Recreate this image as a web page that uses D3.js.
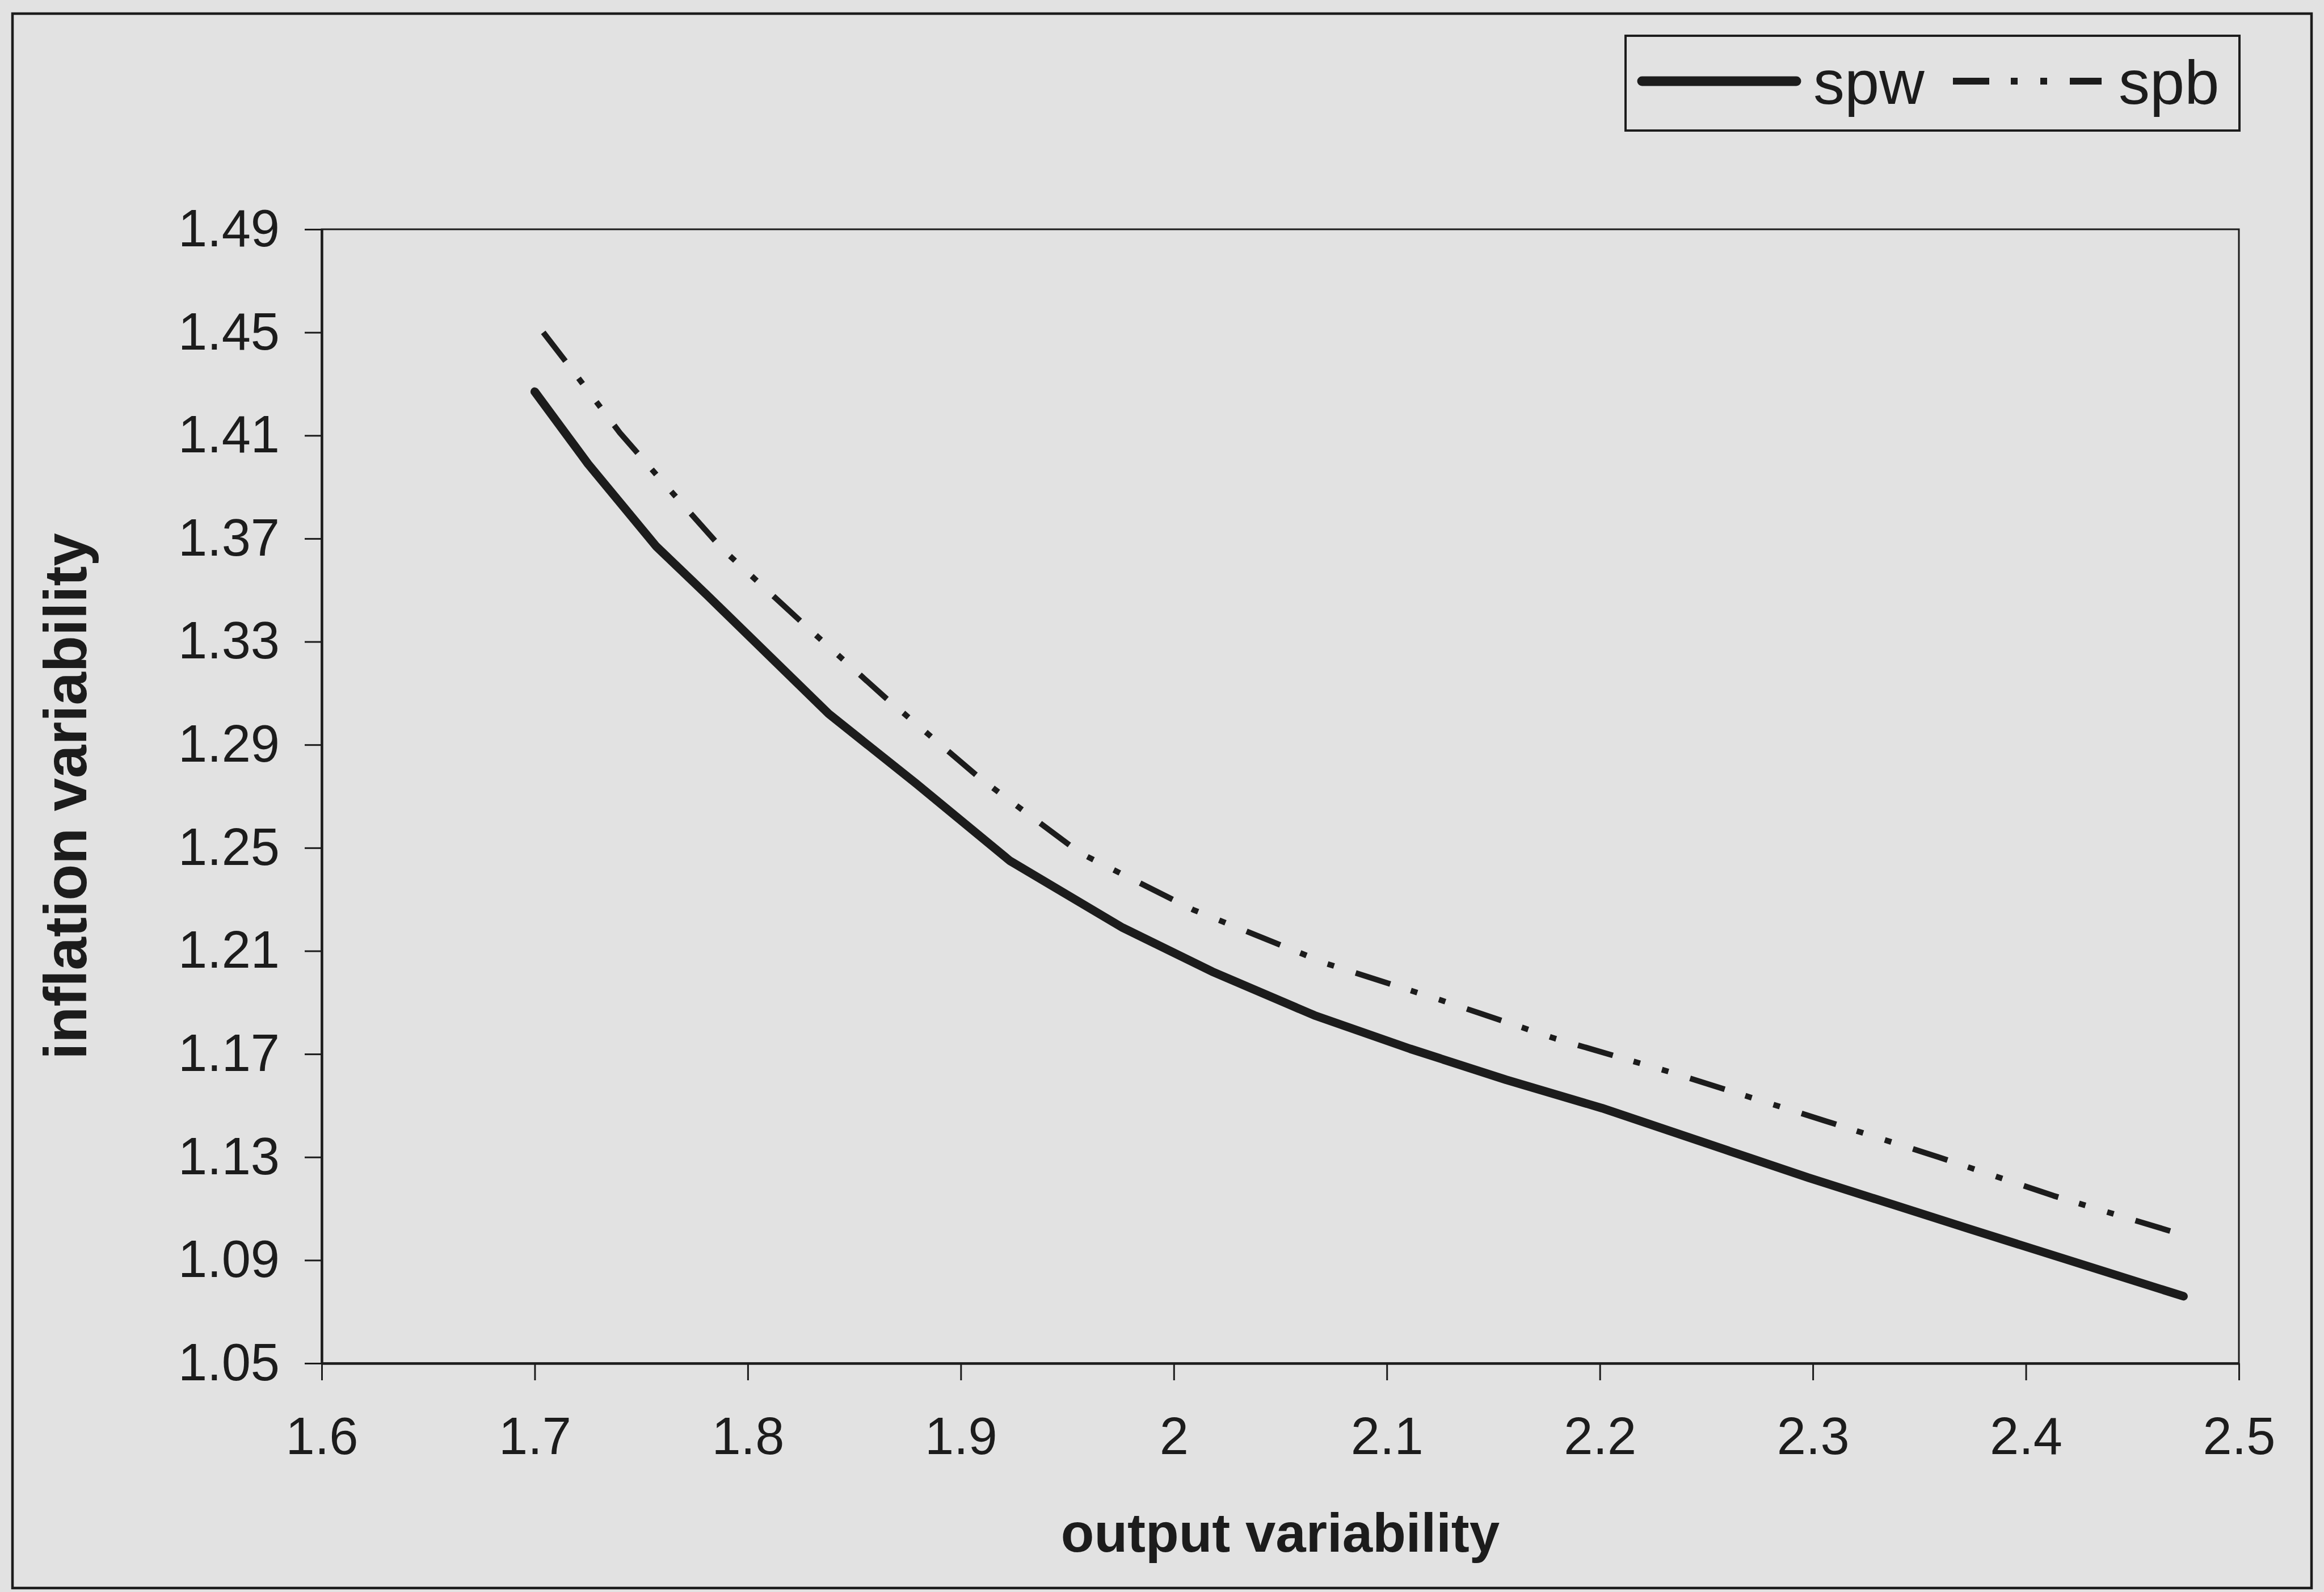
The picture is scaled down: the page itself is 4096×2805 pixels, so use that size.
<!DOCTYPE html>
<html>
<head>
<meta charset="utf-8">
<script src="https://cdn.jsdelivr.net/npm/d3@7"></script>
<style>
    html, body { margin: 0; padding: 0; background: #e2e2e2; }
    svg { display: block; }
</style>
</head>
<body>
<div id="graph"></div>
<script>
// data
const seriesNames = ["spw", "spb"];

const spwX = [1.70, 1.725, 1.757, 1.781, 1.838, 1.879, 1.923, 1.976, 2.018, 2.066, 2.111, 2.156, 2.201, 2.298, 2.374, 2.474];
const spwY = [1.427, 1.399, 1.367, 1.348, 1.302, 1.275, 1.245, 1.219, 1.202, 1.185, 1.172, 1.160, 1.149, 1.122, 1.102, 1.076];

const spbX = [1.704, 1.718, 1.740, 1.759, 1.788, 1.830, 1.865, 1.909, 1.956, 2.009, 2.072, 2.125, 2.179, 2.233, 2.306, 2.359, 2.413, 2.473];
const spbY = [1.450, 1.435, 1.411, 1.393, 1.366, 1.334, 1.308, 1.277, 1.248, 1.226, 1.205, 1.191, 1.176, 1.163, 1.144, 1.130, 1.115, 1.100];

const xTicks = [1.6, 1.7, 1.8, 1.9, 2, 2.1, 2.2, 2.3, 2.4, 2.5];
const yTicks = [1.05, 1.09, 1.13, 1.17, 1.21, 1.25, 1.29, 1.33, 1.37, 1.41, 1.45, 1.49];

const xTitle = "output variability";
const yTitle = "inflation variability";

// set the dimensions and margins of the graph
const W = 4096, H = 2805;
const margin = {
        top: 404,
        right: W - 3946,
        bottom: H - 2402,
        left: 567
    },
    width = W - margin.left - margin.right,
    height = H - margin.top - margin.bottom;

const ink = "#1c1c1c";
const font = "'Liberation Sans', Arial, sans-serif";

let root = d3.select("#graph")
    .append("svg")
    .attr("width", W)
    .attr("height", H);

// page background and outer frame
root.append("rect")
    .attr("width", W).attr("height", H)
    .attr("fill", "#e2e2e2");

root.append("rect")
    .attr("x", 22).attr("y", 24)
    .attr("width", 4052).attr("height", 2774)
    .attr("fill", "none")
    .attr("stroke", ink)
    .attr("stroke-width", 4.5);

let svg = root.append("g")
    .attr("transform", "translate(" + margin.left + "," + margin.top + ")");

// scales
let x = d3.scaleLinear()
    .domain([1.6, 2.5])
    .range([0, width]);

let y = d3.scaleLinear()
    .domain([1.05, 1.49])
    .range([height, 0]);

// plot frame
svg.append("rect")
    .attr("width", width).attr("height", height)
    .attr("fill", "none")
    .attr("stroke", ink)
    .attr("stroke-width", 3);

// Add X axis
let xAxis = svg.append("g")
    .attr("transform", "translate(0," + height + ")")
    .call(d3.axisBottom(x)
        .tickValues(xTicks)
        .tickFormat(d3.format("~g"))
        .tickSizeInner(30)
        .tickSizeOuter(0)
        .tickPadding(65));

// Add Y axis
let yAxis = svg.append("g")
    .call(d3.axisLeft(y)
        .tickValues(yTicks)
        .tickFormat(d3.format(".2f"))
        .tickSizeInner(30)
        .tickSizeOuter(0)
        .tickPadding(44));

[xAxis, yAxis].forEach((a) => {
    a.select(".domain").attr("stroke", ink).attr("stroke-width", 4.5);
    a.selectAll(".tick line").attr("stroke", ink).attr("stroke-width", 3);
    a.selectAll(".tick text")
        .attr("fill", ink)
        .style("font-family", font)
        .attr("font-size", "92px");
});

// axis titles
svg.append("text")
    .attr("x", width / 2)
    .attr("y", 2734 - margin.top)
    .style("text-anchor", "middle")
    .style("font-family", font)
    .attr("font-weight", "bold")
    .attr("font-size", "96px")
    .attr("fill", ink)
    .text(xTitle);

svg.append("text")
    .attr("transform", "translate(" + (152 - margin.left) + "," + (height / 2) + ") rotate(-90)")
    .style("text-anchor", "middle")
    .style("font-family", font)
    .attr("font-weight", "bold")
    .attr("font-size", "105px")
    .attr("fill", ink)
    .text(yTitle);

// lines
let series = [
    { name: seriesNames[0], pts: spwX.map((v, i) => [v, spwY[i]]), dash: null, w: 15 },
    { name: seriesNames[1], pts: spbX.map((v, i) => [v, spbY[i]]), dash: "64,38,12,40,12,40", w: 10 }
];

let line = d3.line()
    .x((d) => x(d[0]))
    .y((d) => y(d[1]));

series.forEach((s) => {
    svg.append("path")
        .datum(s.pts)
        .attr("d", line)
        .attr("fill", "none")
        .attr("stroke", ink)
        .attr("stroke-width", s.w)
        .attr("stroke-linejoin", "round")
        .attr("stroke-linecap", s.dash ? "butt" : "round")
        .attr("stroke-dasharray", s.dash);
});

// legend
let legend = root.append("g");

legend.append("rect")
    .attr("x", 2865).attr("y", 63)
    .attr("width", 1082).attr("height", 167)
    .attr("fill", "#e2e2e2")
    .attr("stroke", ink)
    .attr("stroke-width", 4);

let legendItems = [
    { x1: 2894, x2: 3166, tx: 3196 },
    { x1: 3442, x2: 3704, tx: 3734 }
];

legendItems.forEach((d, i) => {
    legend.append("line")
        .attr("x1", d.x1).attr("x2", d.x2)
        .attr("y1", 143).attr("y2", 143)
        .attr("stroke", ink)
        .attr("stroke-width", series[i].w + 2)
        .attr("stroke-linecap", series[i].dash ? "butt" : "round")
        .attr("stroke-dasharray", series[i].dash);
    legend.append("text")
        .attr("x", d.tx).attr("y", 183)
        .style("font-family", font)
        .attr("font-size", "110px")
        .attr("fill", ink)
        .text(series[i].name);
});
</script>
</body>
</html>
